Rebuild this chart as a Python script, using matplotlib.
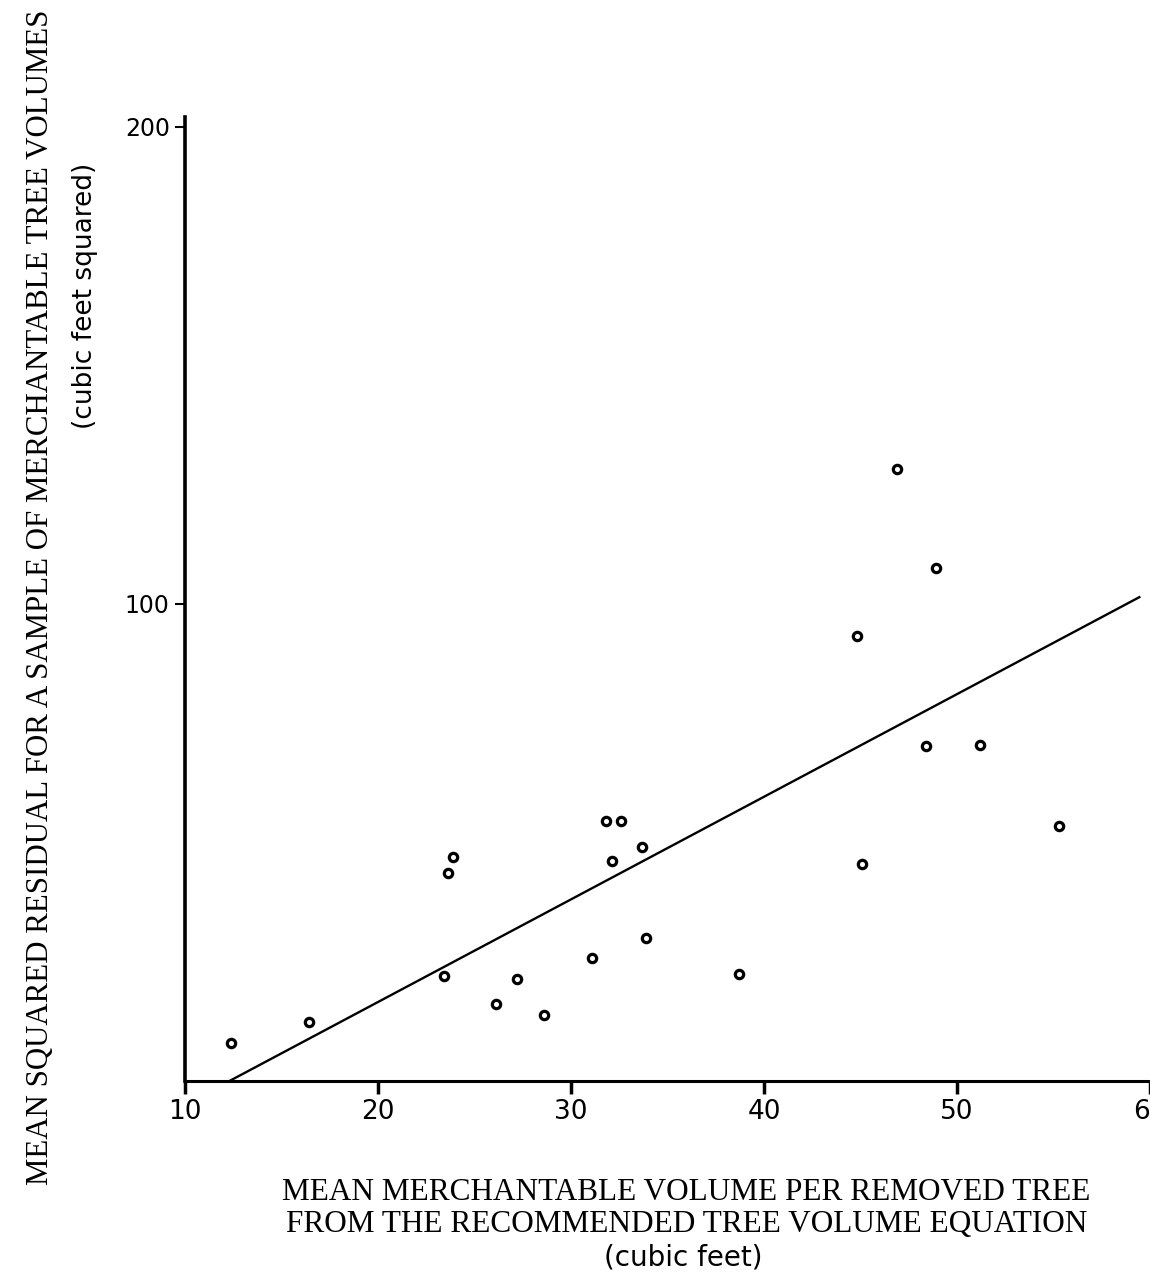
import numpy as np
import matplotlib.pyplot as plt

# mean merchantable volume per removed tree (cubic feet)
vol = [12.4, 16.4, 23.4, 23.6, 23.9, 26.1, 27.2, 28.6, 31.1, 31.8, 32.6,
       32.1, 33.7, 33.9, 38.7, 44.8, 45.1, 46.9, 48.9, 48.4, 51.2, 55.3]
# mean squared residual (cubic feet squared)
msr = [8.0, 12.4, 22.0, 43.5, 47.0, 16.2, 21.4, 13.9, 25.7, 54.5, 54.5,
       46.0, 49.0, 30.0, 22.4, 93.3, 45.5, 128.3, 107.5, 70.2, 70.4, 53.5]

# fitted line
fit_x = [12.3, 59.5]
fit_y = [0.0, 101.5]

x_ticks = [10, 20, 30, 40, 50, 60]
x_tick_labels = ['10', '20', '30', '40', '50', '60']
y_ticks = [100, 200]
y_tick_labels = ['100', '200']

serif = 'Liberation Serif'
sans = 'DejaVu Sans'

fig = plt.figure(figsize=(11.5, 12.76), dpi=100)
ax = fig.add_axes([0.1609, 0.1528, 0.8391, 0.7555])

ax.plot(fit_x, fit_y, color='black', lw=1.7, solid_capstyle='butt')
ax.plot(vol, msr, 'o', ms=6, mfc='white', mec='black', mew=2.3, ls='none',
        clip_on=False)

ax.set_xlim(10, 60)
ax.set_ylim(0, 202)

for s in ['top', 'right']:
  ax.spines[s].set_visible(False)
ax.spines['left'].set_linewidth(2.6)
ax.spines['bottom'].set_linewidth(2.2)

ax.set_xticks(x_ticks)
ax.set_xticklabels(x_tick_labels, fontsize=19, family=sans)
ax.set_yticks(y_ticks)
ax.set_yticklabels(y_tick_labels, fontsize=17, family=sans)
ax.tick_params(axis='x', direction='out', length=9, width=2.5, pad=4)
ax.tick_params(axis='y', direction='out', length=7, width=1.5, pad=4)

# x axis label, three lines
fig.text(0.597, 0.0655, 'MEAN MERCHANTABLE VOLUME PER REMOVED TREE',
         ha='center', va='center', fontsize=22.5, family=serif)
fig.text(0.597, 0.040, 'FROM THE RECOMMENDED TREE VOLUME EQUATION',
         ha='center', va='center', fontsize=22.5, family=serif)
fig.text(0.594, 0.0145, '(cubic feet)',
         ha='center', va='center', fontsize=20, family=sans)

# y axis label, two lines
fig.text(0.035, 0.532, 'MEAN SQUARED RESIDUAL FOR A SAMPLE OF MERCHANTABLE TREE VOLUMES',
         ha='center', va='center', rotation=90, fontsize=22.2, family=serif)
fig.text(0.074, 0.768, '(cubic feet squared)',
         ha='center', va='center', rotation=90, fontsize=19, family=sans)

plt.savefig('out.png', dpi=100)
